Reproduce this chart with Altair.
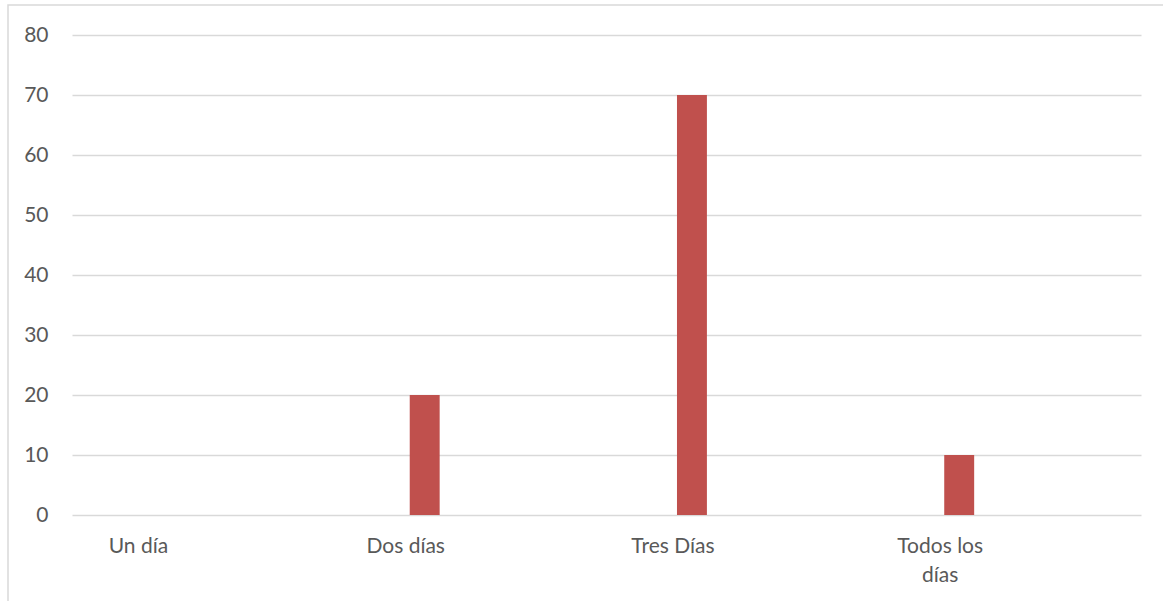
import altair as alt
import pandas as pd

# Survey answers per category
categories = ["Un día", "Dos días", "Tres Días", "Todos los días"]
values = [0, 20, 70, 10]

df = pd.DataFrame({"categoria": categories, "valor": values})

FONT = "Lato"
TEXT_COLOR = "#595959"
GRID_COLOR = "#d9d9d9"
BAR_COLOR = "#c0504d"

bars = alt.Chart(df).mark_bar(color=BAR_COLOR).encode(
    x=alt.X(
        "categoria:N",
        sort=categories,
        scale=alt.Scale(paddingInner=0.888, paddingOuter=0.444, align=0.297),
        axis=alt.Axis(
            title=None,
            labelAngle=0,
            labelOffset=-19,
            ticks=False,
            domain=False,
            grid=False,
            labelPadding=20,
            labelFont=FONT,
            labelFontSize=21,
            labelColor=TEXT_COLOR,
            labelLineHeight=29,
            labelExpr="datum.value == 'Todos los días' ? ['Todos los', 'días'] : datum.value",
        ),
    ),
    y=alt.Y(
        "valor:Q",
        scale=alt.Scale(domain=[0, 80], nice=False),
        axis=alt.Axis(
            title=None,
            values=[0, 10, 20, 30, 40, 50, 60, 70, 80],
            ticks=False,
            domain=False,
            grid=True,
            gridColor=GRID_COLOR,
            gridWidth=1.4,
            labelPadding=24,
            labelFont=FONT,
            labelFontSize=21,
            labelColor=TEXT_COLOR,
        ),
    ),
)

# Light outer frame around the chart area
frame = alt.Chart(pd.DataFrame({"f": [0]})).mark_rect(
    fillOpacity=0, stroke=GRID_COLOR, strokeWidth=1.5
).encode(
    x=alt.value(-64),
    x2=alt.value(1200),
    y=alt.value(-30),
    y2=alt.value(200 + 480),
)

chart = (
    alt.layer(frame, bars)
    .properties(
        width=1069,
        height=480,
        autosize=alt.AutoSizeParams(type="none"),
        padding={"left": 72, "top": 35, "right": 22, "bottom": 86},
        background="white",
    )
    .configure_view(stroke=None)
)

chart.save("out.html", embed_options={"renderer": "svg", "actions": False})
